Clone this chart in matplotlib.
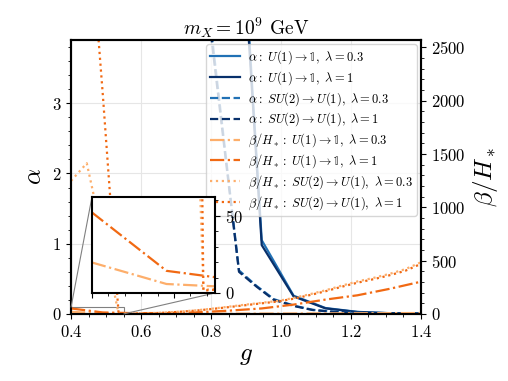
import numpy as np
import matplotlib
matplotlib.use("Agg")
import matplotlib.pyplot as plt
from matplotlib.ticker import AutoMinorLocator, MultipleLocator
from mpl_toolkits.axes_grid1.inset_locator import mark_inset

plt.rcParams['font.family'] = 'serif'
plt.rcParams['font.serif'] = ['cmr10']
plt.rcParams['mathtext.fontset'] = 'cm'
plt.rcParams['axes.formatter.use_mathtext'] = True
plt.rcParams['axes.unicode_minus'] = False

# colours
c_blue_03 = '#2171b5'
c_blue_1 = '#08306b'
c_or_03 = '#fdae6b'
c_or_1 = '#f16913'

# alpha, U(1) -> 1 (solid)
g_u1 = [0.764, 0.855, 0.945, 1.036, 1.127, 1.218, 1.309, 1.4]
alpha_u1_03 = [60, 8.3, 1.05, 0.26, 0.085, 0.03, 0.012, 0.005]
alpha_u1_1 = [60, 8.1, 0.98, 0.25, 0.08, 0.028, 0.011, 0.004]

# alpha, SU(2) -> U(1) (dashed)
g_su2 = [0.70, 0.79, 0.88, 0.93, 0.98, 1.04, 1.09, 1.15, 1.25, 1.4]
alpha_su2_03 = [15, 4.5, 0.62, 0.40, 0.21, 0.115, 0.06, 0.032, 0.012, 0.004]
alpha_su2_1 = [15, 4.4, 0.60, 0.39, 0.20, 0.11, 0.057, 0.03, 0.011, 0.003]

# beta/H, U(1) -> 1 (dash-dot)
g_bu1 = [0.4, 0.491, 0.582, 0.673, 0.764, 0.855, 0.945, 1.036, 1.127, 1.218, 1.309, 1.4]
beta_u1_03 = [19.7, 5.8, 3.5, 2.5, 2.5, 3, 4, 5, 6, 7, 8, 9]
beta_u1_1 = [52, 14.3, 8, 9, 16, 32, 52, 88, 135, 175, 235, 303]

# beta/H, SU(2) -> U(1) (dotted)
g_bsu2 = [0.4, 0.445, 0.491, 0.536, 0.582, 0.627, 0.673, 0.718, 0.764, 0.809, 0.855, 0.9,
          0.945, 0.991, 1.036, 1.082, 1.127, 1.173, 1.218, 1.264, 1.309, 1.355, 1.4]
beta_su2_03 = [1248, 1414, 720, 2, 4, 7, 14, 24, 36, 52, 70, 88,
               105, 122, 150, 185, 222, 265, 305, 338, 375, 420, 485]
beta_su2_1 = [6000, 4000, 2050, 1.5, 3.5, 6.5, 13, 22, 34, 49, 66, 83,
              100, 117, 143, 177, 213, 255, 293, 326, 362, 405, 470]

fig = plt.figure(figsize=(5.08, 3.81), dpi=100)
ax = fig.add_axes([0.1398, 0.1759, 0.6889, 0.7192])
ax2 = ax.twinx()

lw = 1.6
l1, = ax.plot(g_u1, alpha_u1_03, '-', color=c_blue_03, lw=lw, label=r'$\alpha:\ U(1)\rightarrow \mathbb{1},\ \lambda=0.3$')
l2, = ax.plot(g_u1, alpha_u1_1, '-', color=c_blue_1, lw=lw, label=r'$\alpha:\ U(1)\rightarrow \mathbb{1},\ \lambda=1$')
l3, = ax.plot(g_su2, alpha_su2_03, '--', color=c_blue_03, lw=lw, label=r'$\alpha:\ SU(2)\rightarrow U(1),\ \lambda=0.3$')
l4, = ax.plot(g_su2, alpha_su2_1, '--', color=c_blue_1, lw=lw, label=r'$\alpha:\ SU(2)\rightarrow U(1),\ \lambda=1$')

l5, = ax2.plot(g_bu1, beta_u1_03, '-.', color=c_or_03, lw=lw, label=r'$\beta/H_*:\ U(1)\rightarrow \mathbb{1},\ \lambda=0.3$')
l6, = ax2.plot(g_bu1, beta_u1_1, '-.', color=c_or_1, lw=lw, label=r'$\beta/H_*:\ U(1)\rightarrow \mathbb{1},\ \lambda=1$')
l7, = ax2.plot(g_bsu2, beta_su2_03, ':', color=c_or_03, lw=lw, label=r'$\beta/H_*:\ SU(2)\rightarrow U(1),\ \lambda=0.3$')
l8, = ax2.plot(g_bsu2, beta_su2_1, ':', color=c_or_1, lw=lw, label=r'$\beta/H_*:\ SU(2)\rightarrow U(1),\ \lambda=1$')

ax.set_xlim(0.4, 1.4)
ax.set_ylim(0, 3.9)
ax2.set_ylim(0, 2570)
ax.yaxis.set_major_locator(MultipleLocator(1))
ax.yaxis.set_minor_locator(MultipleLocator(0.2))
ax2.yaxis.set_major_locator(MultipleLocator(500))
ax.grid(True, color='#e6e6e6', lw=0.8)
ax.set_axisbelow(True)

for a in (ax, ax2):
    a.xaxis.set_minor_locator(AutoMinorLocator())
    a.tick_params(labelsize=12)
    for s in a.spines.values():
        s.set_linewidth(1.5)
ax2.yaxis.set_minor_locator(AutoMinorLocator())

ax.set_xlabel(r'$g$', fontsize=18)
ax.set_ylabel(r'$\alpha$', fontsize=18)
ax2.set_ylabel(r'$\beta/H_*$', fontsize=18)
ax.set_title(r'$m_X = 10^9$ GeV', fontsize=14, pad=2)

handles = [l1, l2, l3, l4, l5, l6, l7, l8]
ax2.legend(handles=handles, loc='upper right', fontsize=9, handlelength=2.4,
           borderaxespad=0.35, labelspacing=0.25, borderpad=0.3, handletextpad=0.6)

# inset zoom on the small beta values
axins = fig.add_axes([0.181, 0.231, 0.242, 0.252])
axins.plot(g_bu1, beta_u1_03, '-.', color=c_or_03, lw=lw)
axins.plot(g_bu1, beta_u1_1, '-.', color=c_or_1, lw=lw)
axins.plot(g_bsu2, beta_su2_03, ':', color=c_or_03, lw=lw)
axins.plot(g_bsu2, beta_su2_1, ':', color=c_or_1, lw=lw)
axins.set_xlim(0.4, 0.55)
axins.set_ylim(0, 62)
axins.yaxis.tick_right()
axins.set_yticks([0, 50])
axins.set_xticklabels([])
axins.xaxis.set_minor_locator(AutoMinorLocator())
axins.yaxis.set_minor_locator(AutoMinorLocator())
axins.tick_params(labelsize=12)
for s in axins.spines.values():
    s.set_linewidth(1.5)
mark_inset(ax2, axins, loc1=2, loc2=4, fc='none', ec='0.5', lw=0.8)

fig.savefig('out.png', dpi=100)
